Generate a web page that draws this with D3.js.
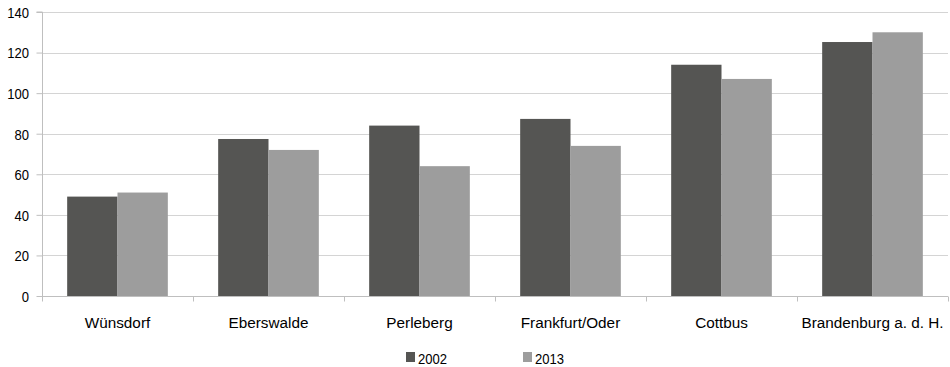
<!DOCTYPE html>
<html>
<head>
<meta charset="utf-8">
<script src="https://cdn.jsdelivr.net/npm/d3@7"></script>
<style>
  html, body { margin: 0; padding: 0; background: #fff; }
  svg text { font-family: "Liberation Sans", Arial, sans-serif; fill: #000; }
</style>
</head>
<body>
<svg id="chart" width="950" height="367"></svg>
<script>
const categories = ["Wünsdorf", "Eberswalde", "Perleberg", "Frankfurt/Oder", "Cottbus", "Brandenburg a. d. H."];
const seriesNames = ["2002", "2013"];
const values2002 = [49, 77.4, 84, 87.3, 114, 125.2];
const values2013 = [51, 72, 64, 74, 107, 130];
const yTicks = [0, 20, 40, 60, 80, 100, 120, 140];
const colors = ["#555553", "#9d9d9d"];

const svg = d3.select("#chart");
const plotLeft = 42, plotRight = 948, plotTop = 12, plotBottom = 296;
const narrow = 0.87; // horizontal squeeze of the numeric labels

const x = d3.scaleBand().domain(categories).range([plotLeft, plotRight]).paddingInner(0).paddingOuter(0);
const y = d3.scaleLinear().domain([0, 140]).range([plotBottom, plotTop]);
const inner = d3.scaleBand().domain(seriesNames).range([x.bandwidth() / 6, x.bandwidth() * 5 / 6]);

// horizontal gridlines
svg.append("g").selectAll("line").data(yTicks.filter(d => d > 0)).join("line")
  .attr("x1", plotLeft).attr("x2", plotRight)
  .attr("y1", d => Math.round(y(d)) + 0.5).attr("y2", d => Math.round(y(d)) + 0.5)
  .attr("stroke", "#d4d4d4").attr("stroke-width", 1);

// bars
const rows = categories.map((c, i) => ({ c, v: [values2002[i], values2013[i]] }));
const groups = svg.append("g").selectAll("g").data(rows).join("g")
  .attr("transform", d => `translate(${x(d.c)},0)`);
groups.selectAll("rect").data(d => d.v.map((v, j) => ({ v, s: seriesNames[j], j }))).join("rect")
  .attr("x", d => inner(d.s)).attr("width", inner.bandwidth())
  .attr("y", d => y(d.v)).attr("height", d => y(0) - y(d.v))
  .attr("fill", d => colors[d.j]);

// y axis
const yAxis = svg.append("g").attr("transform", `translate(${plotLeft + 0.5},0)`)
  .call(d3.axisLeft(y).tickValues(yTicks).tickSize(6).tickPadding(7));
yAxis.select(".domain").attr("stroke", "#bfbfbf").attr("d", `M-6,${plotTop}H0V${plotBottom}`);
yAxis.selectAll(".tick line").attr("stroke", "#bfbfbf");
yAxis.selectAll(".tick text")
  .style("font-size", "15px")
  .attr("x", 0).attr("dy", "0.36em")
  .attr("transform", `translate(-13.5,0) scale(${narrow},1)`);

// x axis
const xAxis = svg.append("g").attr("transform", `translate(0,${plotBottom + 0.5})`)
  .call(d3.axisBottom(x).tickSize(0).tickPadding(21));
xAxis.select(".domain").attr("stroke", "#bfbfbf").attr("d", `M${plotLeft},0H${plotRight}`);
xAxis.selectAll(".tick text").style("font-size", "15.3px");
xAxis.append("g").selectAll("line").data(d3.range(categories.length + 1)).join("line")
  .attr("x1", i => Math.round(plotLeft + i * x.bandwidth()) + 0.5)
  .attr("x2", i => Math.round(plotLeft + i * x.bandwidth()) + 0.5)
  .attr("y1", 0).attr("y2", 5).attr("stroke", "#bfbfbf");

// legend
const legendX = [406, 523];
const legend = svg.append("g").selectAll("g").data(seriesNames).join("g")
  .attr("transform", (d, i) => `translate(${legendX[i]},352)`);
legend.append("rect").attr("x", 0).attr("y", 0).attr("width", 9).attr("height", 10)
  .attr("fill", (d, i) => colors[i]);
legend.append("text")
  .attr("transform", `translate(12,11.5) scale(${narrow},1)`)
  .style("font-size", "15px").text(d => d);
</script>
</body>
</html>
